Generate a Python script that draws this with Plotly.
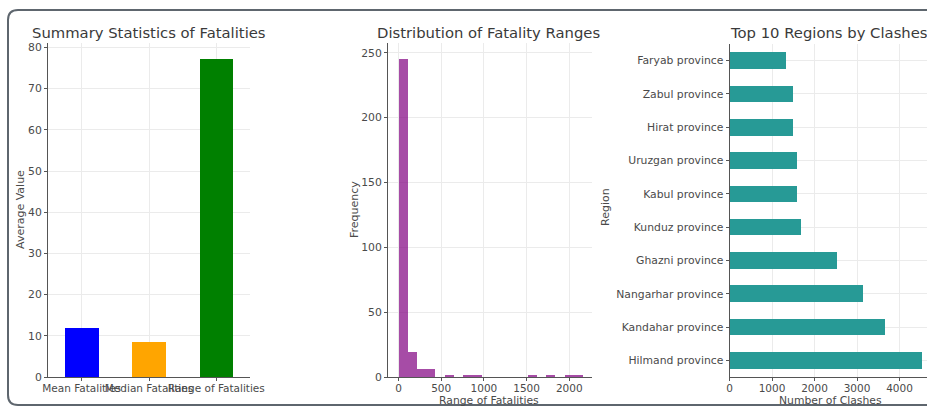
import plotly.graph_objects as go

W, H = 927, 409

# ---- data ----
stat_labels = ["Mean Fatalities", "Median Fatalities", "Range of Fatalities"]
stat_values = [12.0, 8.6, 77.3]
stat_colors = ["#0000ff", "#ffa500", "#008000"]

hist_bin_start = 0
hist_bin_width = 108
hist_counts = [245, 19, 6, 6, 0, 1, 0, 1, 1, 0, 0, 0, 0, 0, 1, 0, 1, 0, 1, 1]

regions = ["Hilmand province", "Kandahar province", "Nangarhar province", "Ghazni province",
           "Kunduz province", "Kabul province", "Uruzgan province", "Hirat province",
           "Zabul province", "Faryab province"]
clashes = [4506, 3643, 3133, 2506, 1682, 1580, 1580, 1486, 1478, 1329]

FONT = "DejaVu Sans"
TXT = "#4a4a4a"
TITLE = "#3a3a3a"
AX = "#555555"
GRID = "#ebebeb"


def px(x):
    return x / W


def py(y):
    return 1 - y / H


fig = go.Figure()

fig.add_trace(go.Bar(x=list(range(len(stat_labels))), y=stat_values, width=0.5,
                     marker=dict(color=stat_colors, line=dict(width=0)),
                     xaxis="x", yaxis="y", showlegend=False))

hist_centers = [hist_bin_start + hist_bin_width * (i + 0.5) for i in range(len(hist_counts))]
fig.add_trace(go.Bar(x=hist_centers, y=hist_counts, width=hist_bin_width,
                     marker=dict(color="purple", opacity=0.7, line=dict(width=0)),
                     xaxis="x2", yaxis="y2", showlegend=False))

fig.add_trace(go.Bar(y=regions, x=clashes, orientation="h", width=0.5,
                     marker=dict(color="#279a96", line=dict(width=0)),
                     xaxis="x3", yaxis="y3", showlegend=False))

common = dict(showline=True, linecolor=AX, linewidth=1, ticks="outside", ticklen=3,
              tickcolor=AX, tickfont=dict(family=FONT, size=10.8, color=TXT),
              showgrid=True, gridcolor=GRID, gridwidth=1, zeroline=False, mirror=False,
              automargin=False)
xcommon = dict(common, tickfont=dict(family=FONT, size=10.5, color=TXT), ticklabelstandoff=-2)

fig.update_layout(
    width=W, height=H, margin=dict(l=0, r=0, t=0, b=0, pad=0, autoexpand=False),
    paper_bgcolor="white", plot_bgcolor="white",
    font=dict(family=FONT, color=TXT),
    bargap=0,
    xaxis=dict(domain=[px(48), px(250)], range=[-0.5, 2.5], tickmode="array",
               tickvals=list(range(len(stat_labels))), ticktext=stat_labels, tickangle=0,
               anchor="y", **xcommon),
    yaxis=dict(domain=[py(377), py(42.5)], range=[0, 81.2], dtick=10, anchor="x", **common),
    xaxis2=dict(domain=[px(388), px(592)], range=[-123, 2266], dtick=500, tickangle=0,
                anchor="y2", **xcommon),
    yaxis2=dict(domain=[py(377), py(43)], range=[0, 257.6], dtick=50, anchor="x2", **common),
    xaxis3=dict(domain=[px(729.5), 1], range=[0, 4647], dtick=1000, tickangle=0,
                anchor="y3", **xcommon),
    yaxis3=dict(domain=[py(377), py(44)], range=[-0.5, 9.5], type="category",
                categoryorder="array", categoryarray=regions, anchor="x3", **common),
)

ann = []


def text(x, y, s, size, angle=0, color=TXT):
    ann.append(dict(x=px(x), y=py(y), xref="paper", yref="paper", text=s, showarrow=False,
                    textangle=angle, xanchor="center", yanchor="middle",
                    font=dict(family=FONT, size=size, color=color)))


text(149, 32, "Summary Statistics of Fatalities", 14.8, color=TITLE)
text(489, 32, "Distribution of Fatality Ranges", 14.8, color=TITLE)
text(829, 32, "Top 10 Regions by Clashes", 14.8, color=TITLE)
text(20, 210, "Average Value", 11, -90)
text(354, 210, "Frequency", 11, -90)
text(606, 207, "Region", 11, -90)
text(489, 400.5, "Range of Fatalities", 10.8)
text(830, 400.5, "Number of Clashes", 10.8)
fig.update_layout(annotations=ann)

# rounded frame around the output
x0, y0, y1 = px(8), py(405), py(10)
rx, ry = px(18) - px(8), py(10) - py(20)
path = (f"M {x0},{y1 - ry} Q {x0},{y1} {x0 + rx},{y1} L 1.01,{y1} "
        f"M {x0},{y1 - ry} L {x0},{y0 + ry} Q {x0},{y0} {x0 + rx},{y0} L 1.01,{y0}")
fig.add_shape(type="path", path=path, xref="paper", yref="paper",
              line=dict(color="#5e666e", width=2), layer="above")

fig.write_html("out.html", config={"displayModeBar": False},
               post_script="document.body.style.margin='0';document.body.style.overflow='hidden';")
